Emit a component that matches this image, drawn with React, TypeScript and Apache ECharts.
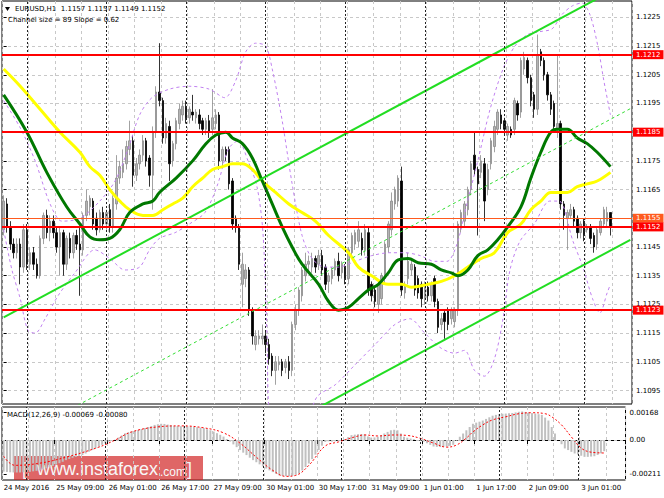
import React, { useEffect, useRef } from "react";
import * as echarts from "echarts";

const SLOT_COUNT = 190;
const TIME_LABELS = ["24 May 2016", "25 May 09:00", "26 May 01:00", "26 May 17:00", "27 May 09:00", "30 May 01:00", "30 May 17:00", "31 May 09:00", "1 Jun 01:00", "1 Jun 17:00", "2 Jun 09:00", "3 Jun 01:00"];
const DAY_STARTS = [7, 31, 55, 79, 103, 127, 151, 175];
const PRICE_TICKS = [1.1095, 1.1105, 1.1115, 1.1125, 1.1135, 1.1145, 1.1155, 1.1165, 1.1175, 1.1185, 1.1195, 1.1205, 1.1215, 1.1225];
const MACD_TICKS = [0.00168, 0, -0.00211];
const LEVEL_PRICES = [1.1212, 1.1185, 1.1155, 1.1152, 1.1123];
const ASK_PRICE = 1.1155;

// [open, close, low, high]
const CANDLES = [
  [1.1151,1.1161,1.1149,1.1163],[1.1160,1.1152,1.1150,1.1162],[1.1152,1.1146,1.1144,1.1154],[1.1146,1.1143,1.1141,1.1148],
  [1.1143,1.1146,1.1141,1.1148],[1.1146,1.1138,1.1132,1.1148],[1.1138,1.1151,1.1136,1.1153],[1.1151,1.1139,1.1137,1.1153],
  [1.1139,1.1143,1.1137,1.1145],[1.1143,1.1139,1.1137,1.1145],[1.1139,1.1135,1.1134,1.1141],[1.1135,1.1148,1.1134,1.1149],
  [1.1148,1.1156,1.1146,1.1157],[1.1156,1.1150,1.1148,1.1158],[1.1150,1.1154,1.1147,1.1156],[1.1154,1.1150,1.1148,1.1156],
  [1.1150,1.1145,1.1143,1.1152],[1.1145,1.1150,1.1135,1.1152],[1.1150,1.1139,1.1135,1.1151],[1.1139,1.1148,1.1137,1.1149],
  [1.1148,1.1143,1.1141,1.1150],[1.1143,1.1149,1.1141,1.1150],[1.1149,1.1146,1.1144,1.1151],[1.1146,1.1144,1.1128,1.1152],
  [1.1144,1.1156,1.1142,1.1157],[1.1156,1.1161,1.1154,1.1165],[1.1159,1.1162,1.1156,1.1163],[1.1161,1.1153,1.1151,1.1162],
  [1.1155,1.1151,1.1149,1.1157],[1.1151,1.1157,1.1150,1.1158],[1.1157,1.1153,1.1151,1.1159],[1.1153,1.1157,1.1151,1.1158],
  [1.1158,1.1152,1.1150,1.1160],[1.1152,1.1162,1.1150,1.1163],[1.1160,1.1169,1.1158,1.1177],[1.1169,1.1173,1.1167,1.1175],
  [1.1171,1.1174,1.1169,1.1179],[1.1174,1.1180,1.1172,1.1182],[1.1179,1.1182,1.1177,1.1189],[1.1182,1.1170,1.1166,1.1184],
  [1.1170,1.1174,1.1168,1.1176],[1.1174,1.1177,1.1172,1.1179],[1.1177,1.1182,1.1175,1.1184],[1.1182,1.1175,1.1173,1.1183],
  [1.1176,1.1170,1.1166,1.1177],[1.1170,1.1185,1.1158,1.1187],[1.1185,1.1199,1.1183,1.1201],[1.1199,1.1196,1.1194,1.1216],
  [1.1196,1.1183,1.1181,1.1197],[1.1183,1.1188,1.1181,1.1190],[1.1187,1.1174,1.1168,1.1189],[1.1175,1.1181,1.1173,1.1182],
  [1.1181,1.1189,1.1179,1.1190],[1.1188,1.1193,1.1186,1.1195],[1.1191,1.1194,1.1189,1.1196],[1.1194,1.1190,1.1188,1.1196],
  [1.1190,1.1193,1.1188,1.1194],[1.1192,1.1191,1.1189,1.1198],[1.1190,1.1192,1.1188,1.1193],[1.1191,1.1188,1.1186,1.1193],
  [1.1189,1.1186,1.1184,1.1190],[1.1186,1.1189,1.1184,1.1190],[1.1189,1.1185,1.1183,1.1191],[1.1186,1.1190,1.1184,1.1200],
  [1.1188,1.1191,1.1186,1.1193],[1.1191,1.1175,1.1172,1.1192],[1.1175,1.1179,1.1173,1.1180],[1.1179,1.1177,1.1175,1.1180],
  [1.1179,1.1167,1.1165,1.1180],[1.1168,1.1153,1.1151,1.1169],[1.1155,1.1152,1.1150,1.1156],[1.1152,1.1139,1.1137,1.1153],
  [1.1132,1.1139,1.1124,1.1143],[1.1134,1.1137,1.1131,1.1139],[1.1137,1.1123,1.1121,1.1138],[1.1123,1.1114,1.1111,1.1124],
  [1.1111,1.1114,1.1109,1.1116],[1.1113,1.1114,1.1111,1.1116],[1.1113,1.1114,1.1111,1.1118],[1.1114,1.1111,1.1108,1.1116],
  [1.1111,1.1106,1.1104,1.1113],[1.1107,1.1102,1.1100,1.1108],[1.1102,1.1105,1.1097,1.1107],[1.1104,1.1105,1.1102,1.1107],
  [1.1105,1.1102,1.1100,1.1106],[1.1103,1.1105,1.1101,1.1106],[1.1105,1.1102,1.1099,1.1107],[1.1102,1.1118,1.1100,1.1119],
  [1.1118,1.1123,1.1116,1.1125],[1.1123,1.1130,1.1121,1.1131],[1.1128,1.1137,1.1126,1.1138],[1.1135,1.1139,1.1133,1.1143],
  [1.1139,1.1140,1.1137,1.1142],[1.1138,1.1141,1.1136,1.1143],[1.1141,1.1138,1.1136,1.1142],[1.1139,1.1142,1.1137,1.1144],
  [1.1142,1.1137,1.1135,1.1144],[1.1138,1.1132,1.1130,1.1139],[1.1133,1.1135,1.1129,1.1136],[1.1134,1.1137,1.1132,1.1138],
  [1.1137,1.1140,1.1135,1.1141],[1.1140,1.1135,1.1133,1.1143],[1.1136,1.1139,1.1134,1.1140],[1.1138,1.1134,1.1132,1.1139],
  [1.1134,1.1144,1.1132,1.1145],[1.1143,1.1149,1.1141,1.1150],[1.1146,1.1150,1.1144,1.1151],[1.1147,1.1151,1.1145,1.1154],
  [1.1148,1.1144,1.1142,1.1150],[1.1144,1.1151,1.1142,1.1153],[1.1150,1.1130,1.1128,1.1152],[1.1132,1.1128,1.1126,1.1133],
  [1.1130,1.1126,1.1124,1.1131],[1.1125,1.1132,1.1122,1.1133],[1.1127,1.1135,1.1125,1.1136],[1.1134,1.1146,1.1132,1.1147],
  [1.1145,1.1153,1.1143,1.1154],[1.1151,1.1161,1.1149,1.1164],[1.1160,1.1165,1.1158,1.1166],[1.1161,1.1169,1.1159,1.1170],
  [1.1168,1.1130,1.1128,1.1173],[1.1129,1.1132,1.1127,1.1133],[1.1134,1.1140,1.1132,1.1143],[1.1137,1.1139,1.1135,1.1141],
  [1.1138,1.1130,1.1128,1.1139],[1.1134,1.1129,1.1127,1.1135],[1.1132,1.1127,1.1124,1.1133],[1.1127,1.1132,1.1125,1.1133],
  [1.1131,1.1128,1.1126,1.1133],[1.1128,1.1132,1.1126,1.1133],[1.1134,1.1126,1.1124,1.1135],[1.1126,1.1117,1.1115,1.1127],
  [1.1118,1.1120,1.1116,1.1122],[1.1122,1.1119,1.1113,1.1123],[1.1123,1.1118,1.1116,1.1124],[1.1120,1.1123,1.1118,1.1124],
  [1.1119,1.1123,1.1117,1.1124],[1.1123,1.1153,1.1121,1.1154],[1.1152,1.1157,1.1150,1.1158],[1.1154,1.1160,1.1152,1.1161],
  [1.1158,1.1165,1.1156,1.1166],[1.1165,1.1174,1.1163,1.1175],[1.1177,1.1172,1.1170,1.1185],[1.1172,1.1167,1.1149,1.1173],
  [1.1171,1.1175,1.1169,1.1177],[1.1174,1.1161,1.1154,1.1176],[1.1165,1.1172,1.1163,1.1174],[1.1174,1.1182,1.1172,1.1183],
  [1.1180,1.1187,1.1178,1.1189],[1.1186,1.1192,1.1184,1.1193],[1.1191,1.1188,1.1186,1.1193],[1.1189,1.1186,1.1184,1.1190],
  [1.1184,1.1187,1.1182,1.1188],[1.1186,1.1184,1.1183,1.1187],[1.1186,1.1196,1.1184,1.1197],[1.1195,1.1191,1.1189,1.1196],
  [1.1192,1.1210,1.1190,1.1211],[1.1207,1.1211,1.1205,1.1213],[1.1210,1.1204,1.1202,1.1211],[1.1204,1.1196,1.1194,1.1205],
  [1.1198,1.1193,1.1190,1.1199],[1.1193,1.1212,1.1191,1.1219],[1.1213,1.1210,1.1208,1.1214],[1.1210,1.1205,1.1203,1.1211],
  [1.1205,1.1198,1.1196,1.1206],[1.1198,1.1193,1.1191,1.1199],[1.1195,1.1187,1.1185,1.1196],[1.1186,1.1188,1.1183,1.1212],
  [1.1188,1.1160,1.1158,1.1189],[1.1160,1.1156,1.1151,1.1161],[1.1155,1.1157,1.1144,1.1158],[1.1156,1.1158,1.1155,1.1160],
  [1.1158,1.1154,1.1152,1.1159],[1.1155,1.1150,1.1148,1.1156],[1.1150,1.1153,1.1148,1.1154],[1.1154,1.1149,1.1147,1.1155],
  [1.1151,1.1152,1.1150,1.1153],[1.1152,1.1148,1.1146,1.1153],[1.1149,1.1145,1.1143,1.1150],[1.1146,1.1151,1.1144,1.1152],
  [1.1150,1.1154,1.1149,1.1155],[1.1153,1.1158,1.1152,1.1159],[1.1154,1.1157,1.1152,1.1159],[1.1157,1.1152,1.1149,1.1157],
];

const MA_FAST = [[0,1.1198],[7,1.1185],[13,1.1171],[19,1.1159],[23,1.1153],[26,1.11485],[29,1.11475],[32,1.1148],[35,1.1151],[38,1.1157],[42,1.1160],[45,1.1161],[47,1.1164],[52,1.1169],[57,1.1175],[61,1.1181],[64,1.1184],[67,1.1185],[69,1.1183],[72,1.1181],[75,1.1176],[78,1.1168],[81,1.1160],[84,1.1152],[87,1.1145],[90,1.1139],[95,1.1132],[98,1.1126],[101,1.1123],[104,1.1124],[107,1.1127],[110,1.1130],[113,1.1132],[116,1.1136],[119,1.11405],[122,1.1141],[125,1.11395],[129,1.1139],[132,1.1137],[135,1.1136],[137,1.1135],[140,1.1137],[143,1.1142],[146,1.1144],[149,1.11475],[152,1.1152],[156,1.1159],[159,1.1169],[162,1.1178],[165,1.1185],[167,1.1186],[170,1.1186],[173,1.1183],[176,1.1181],[179,1.1178],[183,1.1173]];

const MA_SLOW = [[0,1.1207],[5,1.1201],[11,1.1193],[17,1.1185],[23,1.1178],[26,1.1173],[29,1.1170],[32,1.1165],[35,1.1161],[38,1.1158],[42,1.1156],[45,1.1156],[48,1.1158],[51,1.1160],[54,1.1162],[57,1.1166],[60,1.1169],[63,1.1172],[66,1.1173],[69,1.1174],[72,1.1174],[75,1.1172],[78,1.1168],[82,1.1164],[86,1.1160],[90,1.1157],[94,1.1154],[98,1.1149],[104,1.1143],[107,1.1138],[111,1.1135],[116,1.1132],[120,1.1132],[123,1.1131],[128,1.1132],[132,1.1133],[136,1.1135],[140,1.1138],[144,1.1141],[148,1.1143],[152,1.1150],[156,1.1153],[159,1.1158],[162,1.1161],[165,1.1164],[167,1.1164],[170,1.1164],[173,1.1166],[176,1.1167],[179,1.1168],[183,1.1171]];

const BAND_UPPER = [[0,1.1196],[5,1.11865],[9.5,1.1175],[14,1.1160],[17.6,1.1154],[23,1.1155],[29,1.1161],[33.6,1.1168],[37.5,1.1179],[41,1.1191],[44.7,1.1197],[50,1.1200],[56,1.1201],[62,1.1200],[66.7,1.1197],[70,1.1203],[73,1.1213],[76,1.1216],[79,1.1215],[81,1.1207],[84,1.1189],[87,1.1167],[90,1.1149],[93,1.1141],[97,1.1138],[101,1.1138],[106,1.1140],[111,1.1142],[116.5,1.1143],[121,1.1143],[125.6,1.1142],[130,1.1140],[133.7,1.1140],[136.7,1.1146],[139.7,1.1160],[143,1.1175],[146.7,1.1193],[150.6,1.1207],[154.2,1.1215],[158,1.1219],[161.6,1.1220],[165.4,1.1221],[168.4,1.1226],[171.5,1.1229],[174.4,1.1230],[176.8,1.1226],[179.2,1.1215],[181,1.1203],[183,1.1191]];

const BAND_LOWER = [[0,1.1151],[2.5,1.1137],[5,1.1127],[7.3,1.1116],[9.5,1.1115],[12.5,1.1120],[16.4,1.1128],[21.5,1.1136],[27.5,1.1144],[32,1.1141],[36.6,1.1137],[41,1.1138],[44,1.1144],[47,1.1148],[51.7,1.1150],[56,1.1153],[60.7,1.1157],[64.6,1.1167],[67.7,1.1179],[70.7,1.1182],[73.7,1.1175],[76.4,1.1166],[78.2,1.1150],[79.4,1.1115],[80.3,1.1085],[89.4,1.1080],[94.5,1.10928],[100,1.1097],[106,1.1104],[112,1.1111],[118,1.1118],[122.5,1.1120],[127,1.1115],[131.6,1.1110],[136,1.1108],[139,1.1109],[142,1.1102],[145,1.1100],[148,1.1106],[150.6,1.1120],[152.7,1.1137],[155.7,1.1147],[160,1.1153],[164.7,1.1161],[167.5,1.1161],[171.7,1.1147],[174.7,1.1138],[177.6,1.1127],[179.8,1.1122],[182,1.1129],[183,1.1132]];

const CHANNEL_UPPER = [[0,1.11205],[189,1.12377]];
const CHANNEL_MIDDLE = [[0,1.1076],[189,1.11932]];
const CHANNEL_LOWER = [[0,1.1030],[189,1.11475]];

const MACD_HIST = [
  -0.00195,-0.00197,-0.00199,-0.00200,-0.00201,-0.00200,-0.00199,-0.00198,-0.00196,-0.00193,-0.00190,-0.00186,-0.00181,-0.00175,-0.00168,
  -0.00160,-0.00152,-0.00143,-0.00134,-0.00124,-0.00117,-0.00110,-0.00104,-0.00098,-0.00093,
  -0.00083,-0.00072,-0.00062,-0.00051,-0.00041,-0.00030,-0.00020,-0.00010,-0.00004,0.00002,
  0.00015,0.00028,0.00041,0.00047,0.00052,0.00057,0.00062,0.00068,0.00074,0.00080,0.00086,0.00093,0.00097,0.00100,
  0.00099,0.00095,0.00091,0.00087,0.00086,0.00085,0.00084,0.00084,0.00083,0.00081,0.00079,0.00076,0.00073,
  0.00067,0.00060,0.00052,0.00042,0.00032,0.00021,0.00006,-0.00010,-0.00027,-0.00044,-0.00062,
  -0.00078,-0.00093,-0.00109,-0.00124,-0.00137,-0.00150,-0.00163,-0.00176,-0.00187,-0.00198,-0.00208,-0.00218,
  -0.00221,-0.00223,-0.00224,-0.00220,-0.00214,-0.00207,-0.00188,-0.00167,-0.00145,-0.00118,-0.00090,-0.00062,
  -0.00035,-0.00012,-0.00008,-0.00010,-0.00008,-0.00004,0.00000,0.00005,0.00018,0.00030,
  0.00033,0.00036,0.00037,0.00035,0.00022,0.00015,0.00016,0.00020,0.00030,0.00040,0.00050,0.00060,0.00063,0.00060,
  0.00040,0.00020,0.00014,0.00009,0.00005,0.00000,-0.00005,-0.00010,-0.00020,-0.00030,-0.00040,
  -0.00042,-0.00043,-0.00042,-0.00040,-0.00036,-0.00030,-0.00005,0.00020,0.00040,0.00060,0.00080,0.00100,
  0.00107,0.00113,0.00120,0.00130,0.00140,0.00150,0.00155,0.00160,0.00162,0.00163,0.00165,0.00166,
  0.00170,0.00174,0.00176,0.00173,0.00170,0.00166,0.00163,0.00159,0.00155,0.00138,0.00120,0.00080,0.00040,0.00000,
  -0.00026,-0.00052,-0.00062,-0.00073,-0.00083,-0.00090,-0.00097,-0.00104,-0.00104,-0.00102,-0.00100,-0.00092,-0.00082,-0.00069,
];

const MACD_SIGNAL = [[0,-0.00100],[3.4,-0.00156],[11,-0.00143],[19,-0.00106],[29,-0.00044],[34,0],[39,0.00050],[47,0.00081],[54,0.00087],[61,0.00075],[67,0.00044],[72,-0.00019],[77,-0.00106],[82,-0.00187],[86,-0.00224],[89,-0.00218],[93,-0.00156],[98,-0.00037],[102,-0.00012],[107,0.00019],[110,0.00031],[114,0.00025],[119,0.00031],[123,0.00028],[127,0.00010],[131,-0.00019],[135,-0.00044],[138,-0.00031],[141,0.00012],[143,0.00050],[146,0.00093],[149,0.00124],[153,0.00143],[157,0.00162],[161,0.00168],[165,0.00162],[167,0.00143],[170,0.00093],[173,0.00019],[176,-0.00050],[179,-0.00075],[183,-0.00080]];

const HEADER = "EURUSD,H1  1.1157 1.1157 1.1149 1.1152";
const CHANNEL_TEXT = "Channel size = 89 Slope = 0.62";
const MACD_TEXT = "MACD(12,26,9) -0.00069 -0.00080";

const FONT = "DejaVu Sans";

export default function App() {
  const ref = useRef<HTMLDivElement>(null);
  useEffect(() => {
    if (!ref.current) return;
    const chart = echarts.init(ref.current, null, { renderer: "svg" });
    const categories = Array.from({ length: SLOT_COUNT }, (_, i) => String(i));
    const gridSplit = { show: true, interval: (i: number) => i % 8 === 0, lineStyle: { color: "#c8c8c8", type: [3, 3], width: 1 } };
    const daySepData = DAY_STARTS.map((d) => ({ xAxis: String(d) }));
    const daySepLine = {
      silent: true, symbol: ["none", "none"], label: { show: false },
      lineStyle: { color: "#222", type: [2, 2], width: 1 }, data: daySepData,
    };
    const levelData = LEVEL_PRICES.map((p) => {
      const ask = p === ASK_PRICE;
      const c = ask ? "#ff5a1e" : "#ff0000";
      return {
        yAxis: p,
        lineStyle: { color: c, width: ask ? 1 : 2, type: "solid" },
        label: {
          show: true, position: "end", distance: 1, formatter: p.toFixed(4),
          backgroundColor: c, color: "#fff", fontSize: 7, fontFamily: FONT, padding: [1, 3, 1, 3],
        },
      };
    });

    const option: any = {
      animation: false,
      backgroundColor: "#ffffff",
      textStyle: { fontFamily: FONT },
      grid: [
        { left: 2, right: 32, top: 1, height: 403, show: true, borderColor: "#000", borderWidth: 1, backgroundColor: "transparent" },
        { left: 2, right: 32, top: 407, height: 73, show: true, borderColor: "#000", borderWidth: 1, backgroundColor: "transparent" },
      ],
      xAxis: [
        { type: "category", gridIndex: 0, data: categories, boundaryGap: true, axisLine: { show: false }, axisTick: { show: false }, axisLabel: { show: false }, splitLine: gridSplit },
        { type: "value", gridIndex: 0, min: -0.5, max: SLOT_COUNT - 0.5, show: false },
        {
          type: "category", gridIndex: 1, data: categories, boundaryGap: true,
          axisLine: { show: true, lineStyle: { color: "#000" } },
          axisTick: { show: true, interval: (i: number) => i % 16 === 0, length: 4, lineStyle: { color: "#000" } },
          axisLabel: {
            show: true, interval: (i: number) => i % 16 === 0 && i / 16 < TIME_LABELS.length,
            formatter: (_v: string, i: number) => TIME_LABELS[i / 16] || "",
            align: "left", fontSize: 7, color: "#000", margin: 4, fontFamily: FONT,
          },
          splitLine: gridSplit,
        },
        { type: "value", gridIndex: 1, min: -0.5, max: SLOT_COUNT - 0.5, show: false },
      ],
      yAxis: [
        {
          type: "value", gridIndex: 0, position: "right", min: 1.10903, max: 1.12307, scale: true,
          axisLine: { show: false },
          axisTick: { show: true, customValues: PRICE_TICKS, length: 3, lineStyle: { color: "#000" } },
          axisLabel: { customValues: PRICE_TICKS, formatter: (v: number) => v.toFixed(4), fontSize: 7, color: "#000", margin: 4, fontFamily: FONT },
          splitLine: { show: true, lineStyle: { color: "#c8c8c8", type: [3, 3], width: 1 } },
        },
        {
          type: "value", gridIndex: 1, position: "right", min: -0.002465, max: 0.002034, scale: true,
          axisLine: { show: false },
          axisTick: { show: true, customValues: MACD_TICKS, length: 3, lineStyle: { color: "#000" } },
          axisLabel: { customValues: MACD_TICKS, formatter: (v: number) => (v === 0 ? "0.00" : v.toFixed(5)), fontSize: 7, color: "#000", margin: 4, fontFamily: FONT },
          splitLine: { show: false },
        },
      ],
      series: [
        {
          type: "candlestick", xAxisIndex: 0, yAxisIndex: 0, data: CANDLES, barWidth: 2, z: 2,
          itemStyle: { color: "#b4b4b4", color0: "#000000", borderColor: "#8a8a8a", borderColor0: "#000000", borderWidth: 0.8 },
          markLine: daySepLine,
        },
        { type: "line", xAxisIndex: 1, yAxisIndex: 0, data: BAND_UPPER, smooth: 0.3, showSymbol: false, z: 3, lineStyle: { color: "#c080f0", width: 1, type: [3, 3] } },
        { type: "line", xAxisIndex: 1, yAxisIndex: 0, data: BAND_LOWER, smooth: 0.3, showSymbol: false, z: 3, lineStyle: { color: "#c080f0", width: 1, type: [3, 3] } },
        { type: "line", xAxisIndex: 1, yAxisIndex: 0, data: MA_SLOW, smooth: 0.4, showSymbol: false, z: 4, lineStyle: { color: "#ffff00", width: 3 } },
        { type: "line", xAxisIndex: 1, yAxisIndex: 0, data: MA_FAST, smooth: 0.4, showSymbol: false, z: 4, lineStyle: { color: "#007800", width: 3 } },
        { type: "line", xAxisIndex: 1, yAxisIndex: 0, data: CHANNEL_UPPER, showSymbol: false, z: 4, lineStyle: { color: "#22dd22", width: 2 } },
        { type: "line", xAxisIndex: 1, yAxisIndex: 0, data: CHANNEL_LOWER, showSymbol: false, z: 4, lineStyle: { color: "#22dd22", width: 2 } },
        {
          type: "line", xAxisIndex: 1, yAxisIndex: 0, data: CHANNEL_MIDDLE, showSymbol: false, z: 5,
          lineStyle: { color: "#33dd33", width: 1, type: [3, 3] },
          markLine: { silent: true, precision: 5, symbol: ["none", "none"], data: levelData },
        },
        {
          type: "bar", xAxisIndex: 2, yAxisIndex: 1, data: MACD_HIST, barWidth: 2, z: 2,
          itemStyle: { color: "#c0c0c0" },
          markLine: {
            silent: true, precision: 6, symbol: ["none", "none"], label: { show: false },
            data: [
              { yAxis: 0, lineStyle: { color: "#c8c8c8", type: [3, 3], width: 1 } },
              ...DAY_STARTS.map((d) => ({ xAxis: String(d), lineStyle: { color: "#222", type: [2, 2], width: 1 } })),
            ],
          },
        },
        { type: "line", xAxisIndex: 3, yAxisIndex: 1, data: MACD_SIGNAL, smooth: 0.4, showSymbol: false, z: 4, lineStyle: { color: "#ff0000", width: 1, type: [2, 2] } },
      ],
      graphic: [
        { type: "polygon", shape: { points: [[5, 7], [10, 7], [7.5, 11]] }, style: { fill: "#000" }, z: 100 },
        { type: "text", x: 15, y: 9, style: { text: HEADER, fontSize: 7, fontFamily: FONT, fill: "#000", textVerticalAlign: "middle" }, z: 100 },
        { type: "text", x: 8, y: 20, style: { text: CHANNEL_TEXT, fontSize: 7, fontFamily: FONT, fill: "#000", textVerticalAlign: "middle" }, z: 100 },
        { type: "text", x: 7, y: 415, style: { text: MACD_TEXT, fontSize: 7, fontFamily: FONT, fill: "#000", textVerticalAlign: "middle" }, z: 100 },
        {
          type: "group", z: 100,
          children: [
            { type: "rect", shape: { x: 14, y: 456, width: 189, height: 24 }, style: { fill: "rgba(208,30,30,0.68)" } },
            { type: "text", x: 22, y: 469, style: { text: "[", fontSize: 18, fontFamily: "Liberation Sans", fill: "#f4f4f4", textVerticalAlign: "middle" } },
            { type: "text", x: 37, y: 469, style: { text: "www.instaforex", fontSize: 18, fontFamily: "Liberation Sans", fill: "#f8f8f8", textVerticalAlign: "middle" } },
            { type: "text", x: 160, y: 472, style: { text: ".com", fontSize: 12, fontFamily: "Liberation Sans", fill: "#f8f8f8", textVerticalAlign: "middle" } },
            { type: "text", x: 187, y: 469, style: { text: "]", fontSize: 18, fontFamily: "Liberation Sans", fill: "#f4f4f4", textVerticalAlign: "middle" } },
          ],
        },
      ],
    };
    chart.setOption(option);
    return () => chart.dispose();
  }, []);
  return <div ref={ref} style={{ position: "fixed", left: 0, top: 0, width: 664, height: 498, background: "#fff" }} />;
}
